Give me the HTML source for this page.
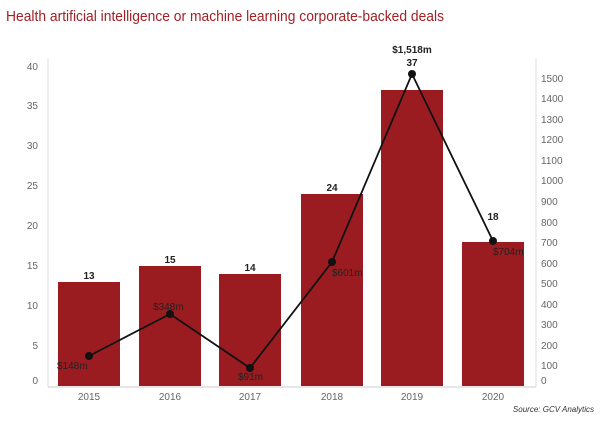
<!DOCTYPE html>
<html><head><meta charset="utf-8"><style>
body{margin:0;background:#fff;width:600px;height:421px;overflow:hidden;font-family:"Liberation Sans",sans-serif}
</style></head><body>
<svg width="600" height="421" xmlns="http://www.w3.org/2000/svg" font-family="Liberation Sans, sans-serif">
<text x="6" y="21" font-size="15" fill="#a31f24" textLength="438" lengthAdjust="spacingAndGlyphs">Health artificial intelligence or machine learning corporate-backed deals</text>
<line x1="48" y1="58" x2="48" y2="387" stroke="#ddd" stroke-width="1"/>
<line x1="536" y1="58" x2="536" y2="387" stroke="#ddd" stroke-width="1"/>
<line x1="48" y1="387" x2="536" y2="387" stroke="#ddd" stroke-width="1.5"/>
<g font-size="10" fill="#666" text-anchor="end">
<text x="38" y="70">40</text><text x="38" y="109">35</text><text x="38" y="149">30</text><text x="38" y="189">25</text><text x="38" y="229">20</text><text x="38" y="269">15</text><text x="38" y="309">10</text><text x="38" y="349">5</text><text x="38" y="384">0</text>
</g>
<g font-size="10" fill="#666" text-anchor="start">
<text x="541" y="82">1500</text><text x="541" y="102">1400</text><text x="541" y="123">1300</text><text x="541" y="143">1200</text><text x="541" y="164">1100</text><text x="541" y="184">1000</text><text x="541" y="205">900</text><text x="541" y="226">800</text><text x="541" y="246">700</text><text x="541" y="267">600</text><text x="541" y="287">500</text><text x="541" y="308">400</text><text x="541" y="328">300</text><text x="541" y="349">200</text><text x="541" y="369">100</text><text x="541" y="384">0</text>
</g>
<g fill="#9b1c20">
<rect x="58" y="282" width="62" height="104"/>
<rect x="139" y="266" width="62" height="120"/>
<rect x="219" y="274" width="62" height="112"/>
<rect x="301" y="194" width="62" height="192"/>
<rect x="381" y="90" width="62" height="296"/>
<rect x="462" y="242" width="62" height="144"/>
</g>
<g font-size="10" font-weight="bold" fill="#222" text-anchor="middle">
<text x="89" y="279">13</text><text x="170" y="263">15</text><text x="250" y="271">14</text><text x="332" y="191">24</text><text x="412" y="66">37</text><text x="493" y="220">18</text>
<text x="412" y="53">$1,518m</text>
</g>
<polyline points="89,356 170,314 250,368 332,262 412,74 493,241" fill="none" stroke="#111" stroke-width="1.8"/>
<g fill="#111">
<circle cx="89" cy="356" r="4"/><circle cx="170" cy="314" r="4"/><circle cx="250" cy="368" r="4"/><circle cx="332" cy="262" r="4"/><circle cx="412" cy="74" r="4"/><circle cx="493" cy="241" r="4"/>
</g>
<g font-size="10" fill="#222">
<text x="57" y="369">$148m</text><text x="153" y="310">$348m</text><text x="238" y="380">$91m</text><text x="332" y="276">$601m</text><text x="493" y="255">$704m</text>
</g>
<g font-size="10" fill="#666" text-anchor="middle">
<text x="89" y="400">2015</text><text x="170" y="400">2016</text><text x="250" y="400">2017</text><text x="332" y="400">2018</text><text x="412" y="400">2019</text><text x="493" y="400">2020</text>
</g>
<text x="594" y="412" font-size="8" font-style="italic" fill="#333" text-anchor="end">Source: GCV Analytics</text>
</svg>
</body></html>
